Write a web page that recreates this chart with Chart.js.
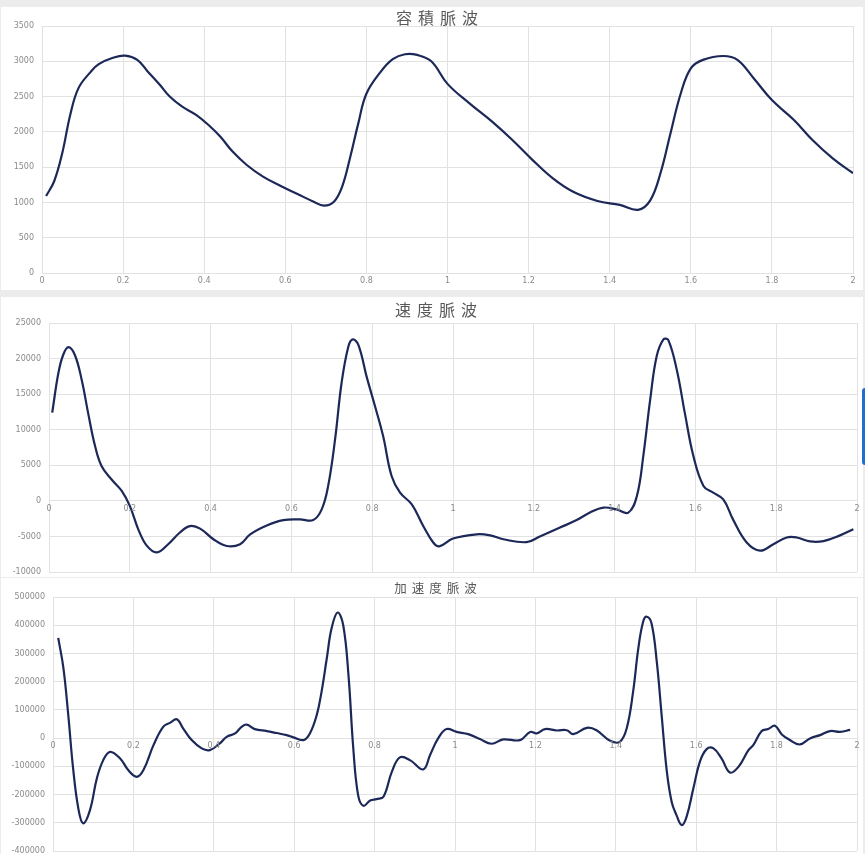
<!DOCTYPE html>
<html>
<head>
<meta charset="utf-8">
<script src="https://cdn.jsdelivr.net/npm/chart.js@4.4.0/dist/chart.umd.min.js"></script>
<style>
body { margin: 0; width: 865px; height: 854px; overflow: hidden; position: relative; background: #ececec; }
.box { position: absolute; left: 1px; width: 862px; background: #fff; }
#tab { position: absolute; left: 862px; top: 388px; width: 4px; height: 77px; background: #1f6fd1; border-radius: 3px 0 0 3px; }
</style>
</head>
<body>
<div class="box" style="top:7px;height:283px"><canvas id="volumeChart"></canvas></div>
<div class="box" style="top:297px;height:280px"><canvas id="velocityChart"></canvas></div>
<div class="box" style="top:578px;height:276px"><canvas id="accelChart"></canvas></div>
<div id="tab"></div>
<script>
// 容積脈波
const volX = [0.01, 0.03, 0.05, 0.07, 0.09, 0.12, 0.14, 0.175, 0.205, 0.235, 0.26, 0.29, 0.315, 0.345, 0.38, 0.41, 0.44, 0.47, 0.505, 0.545,
    0.59, 0.63, 0.67, 0.695, 0.72, 0.74, 0.76, 0.78, 0.80, 0.835, 0.865, 0.895, 0.925, 0.96, 1.0, 1.055, 1.11, 1.16, 1.21, 1.26,
    1.31, 1.37, 1.425, 1.47, 1.50, 1.525, 1.55, 1.575, 1.60, 1.63, 1.68, 1.715, 1.755, 1.80, 1.855, 1.90, 1.95, 2.0];
const volY = [1090, 1300, 1700, 2250, 2620, 2850, 2960, 3050, 3080, 3020, 2860, 2670, 2500, 2360, 2240, 2100, 1930, 1720, 1530, 1365,
    1230, 1120, 1010, 955, 1010, 1220, 1640, 2120, 2540, 2850, 3030, 3100, 3090, 3000, 2680, 2400, 2145, 1885, 1600, 1340,
    1150, 1020, 965, 895, 1030, 1410, 1980, 2540, 2900, 3020, 3075, 3020, 2760, 2450, 2165, 1885, 1625, 1415];

// 速度脈波
const velX = [0.008, 0.023, 0.035, 0.048, 0.064, 0.081, 0.097, 0.114, 0.13, 0.155, 0.18, 0.2, 0.221, 0.242, 0.267, 0.295, 0.324, 0.349, 0.374, 0.407,
    0.44, 0.473, 0.498, 0.539, 0.58, 0.621, 0.654, 0.675, 0.691, 0.708, 0.724, 0.741, 0.752, 0.766, 0.786, 0.807, 0.827, 0.848, 0.869, 0.898,
    0.926, 0.951, 0.966, 1.0, 1.059, 1.092, 1.125, 1.182, 1.215, 1.265, 1.306, 1.339, 1.372, 1.405, 1.434, 1.455, 1.471, 1.488, 1.504, 1.521,
    1.533, 1.554, 1.574, 1.595, 1.62, 1.644, 1.669, 1.693, 1.727, 1.76, 1.793, 1.826, 1.851, 1.884, 1.917, 1.958, 1.991];
const velY = [12400, 17900, 20500, 21600, 20500, 17000, 12300, 7700, 4900, 3000, 1400, -700, -4000, -6300, -7250, -6100, -4450, -3550, -3900, -5400,
    -6350, -6100, -4700, -3450, -2700, -2600, -2700, -1200, 2100, 8600, 16500, 21700, 22700, 21900, 17500, 13300, 9100, 3500, 1150, -500,
    -3500, -5850, -6400, -5300, -4700, -4850, -5400, -5800, -5000, -3750, -2700, -1650, -950, -1200, -1650, 650, 6300, 14200, 20300, 22700,
    22600, 18400, 12300, 6300, 2100, 1150, 200, -2600, -5850, -7000, -6100, -5150, -5150, -5700, -5650, -4850, -4000];

// 加速度脈波
const accX = [0.013, 0.026, 0.038, 0.05, 0.063, 0.075, 0.092, 0.109, 0.125, 0.142, 0.167, 0.187, 0.208, 0.225, 0.25, 0.274, 0.291, 0.308, 0.324, 0.345,
    0.37, 0.39, 0.415, 0.432, 0.453, 0.469, 0.482, 0.502, 0.532, 0.556, 0.581, 0.598, 0.623, 0.639, 0.656, 0.668, 0.681, 0.693, 0.708, 0.722,
    0.735, 0.747, 0.759, 0.772, 0.789, 0.805, 0.822, 0.843, 0.863, 0.888, 0.921, 0.938, 0.958, 0.979, 1.004, 1.033, 1.062, 1.091, 1.12, 1.162,
    1.187, 1.203, 1.224, 1.253, 1.278, 1.294, 1.328, 1.352, 1.386, 1.41, 1.427, 1.443, 1.456, 1.468, 1.477, 1.489, 1.502, 1.514, 1.527, 1.539,
    1.551, 1.564, 1.576, 1.593, 1.609, 1.626, 1.643, 1.663, 1.684, 1.705, 1.73, 1.742, 1.763, 1.779, 1.796, 1.813, 1.833, 1.858, 1.883, 1.908,
    1.933, 1.958, 1.983];
const accY = [355000, 247000, 81500, -107000, -249000, -302000, -255000, -143000, -78000, -48500, -72000, -113000, -137000, -113000, -25000, 40000, 54000, 67000, 34000, -7000,
    -36500, -42500, -19000, 4600, 16500, 40000, 48000, 32000, 25000, 18000, 10600, 2500, -7000, 16500, 81500, 164000, 282000, 389000, 445000, 400000,
    223000, -36500, -202000, -240000, -221000, -216000, -208000, -119000, -68400, -78000, -111000, -60000, -1000, 32000, 22000, 14000, -3500, -20000, -4600, -7000,
    22000, 16500, 32000, 27000, 28000, 14000, 36500, 28000, -9500, -13000, 34000, 164000, 318000, 412000, 430000, 406000, 270000, 81500, -119000, -226000,
    -273000, -308000, -279000, -178000, -84000, -39000, -36500, -72000, -122000, -102000, -42500, -24800, 25000, 32000, 43600, 13000, -7000, -22500, -1000, 10600,
    25000, 22000, 29000];

const GRID = "#e2e2e2";
const TICK_FONT = { family: "DejaVu Sans", size: 8 };

// letter-spaced title, nudged sideways like the Excel one; ticks are drawn later (z: 1)
const spacedTitle = {
    id: "spacedTitle",
    afterLayout(chart, args, opts) {
        const t = chart.titleBlock;
        if (t) { t.left += opts.shift || 0; t.right += opts.shift || 0; }
    },
    beforeDraw(chart, args, opts) { chart.ctx.letterSpacing = (opts.spacing || 0) + "px"; },
    beforeDatasetsDraw(chart) { chart.ctx.letterSpacing = "0px"; }
};

function makeChart(id, xs, ys, cfg) {
    const points = xs.map((x, i) => ({ x: x, y: ys[i] }));
    return new Chart(document.getElementById(id), {
        type: "line",
        data: {
            datasets: [{
                data: points,
                borderColor: "#1c2858",
                borderWidth: 2.2,
                pointRadius: 0,
                fill: false,
                tension: 0.4
            }]
        },
        options: {
            responsive: true,
            maintainAspectRatio: false,
            animation: false,
            layout: { padding: cfg.padding },
            plugins: {
                legend: { display: false },
                tooltip: { enabled: false },
                spacedTitle: { spacing: cfg.spacing, shift: cfg.shift },
                title: {
                    display: true,
                    text: cfg.title,
                    color: "#595959",
                    font: { family: "'Noto Sans CJK JP'", size: cfg.titleSize, weight: "normal", lineHeight: 1 },
                    padding: cfg.titlePad
                }
            },
            scales: {
                x: {
                    type: "linear",
                    position: { y: 0 },
                    min: 0,
                    max: 2,
                    grid: { color: GRID, drawTicks: false },
                    border: { color: GRID },
                    ticks: {
                        stepSize: 0.2,
                        padding: 3,
                        z: 1,
                        color: "#8a8a8a",
                        font: TICK_FONT,
                        maxRotation: 0,
                        autoSkip: false,
                        callback: v => String(+v.toFixed(1))
                    },
                    afterFit: s => { s.paddingLeft = 0; s.paddingRight = 0; }
                },
                y: {
                    min: cfg.yMin,
                    max: cfg.yMax,
                    grid: { color: GRID, drawTicks: false },
                    border: { color: GRID },
                    ticks: {
                        stepSize: cfg.yStep,
                        padding: 8,
                        z: 1,
                        color: "#8a8a8a",
                        font: TICK_FONT,
                        callback: v => String(v)
                    },
                    afterFit: s => { s.width = cfg.yWidth; s.paddingTop = 0; s.paddingBottom = 0; }
                }
            }
        },
        plugins: [spacedTitle]
    });
}

makeChart("volumeChart", volX, volY, {
    title: "容積脈波", titleSize: 16, spacing: 6, shift: 13, titlePad: { top: 3, bottom: 0 },
    padding: { top: 0, right: 10, bottom: 17, left: 0 },
    yMin: 0, yMax: 3500, yStep: 500, yWidth: 41
});

makeChart("velocityChart", velX, velY, {
    title: "速度脈波", titleSize: 16, spacing: 6, shift: 10, titlePad: { top: 5, bottom: 5 },
    padding: { top: 0, right: 6, bottom: 5, left: 0 },
    yMin: -10000, yMax: 25000, yStep: 5000, yWidth: 48
});

makeChart("accelChart", accX, accY, {
    title: "加速度脈波", titleSize: 12.5, spacing: 5, shift: 9, titlePad: { top: 3.5, bottom: 3 },
    padding: { top: 0, right: 6, bottom: 3, left: 0 },
    yMin: -400000, yMax: 500000, yStep: 100000, yWidth: 52
});
</script>
</body>
</html>
